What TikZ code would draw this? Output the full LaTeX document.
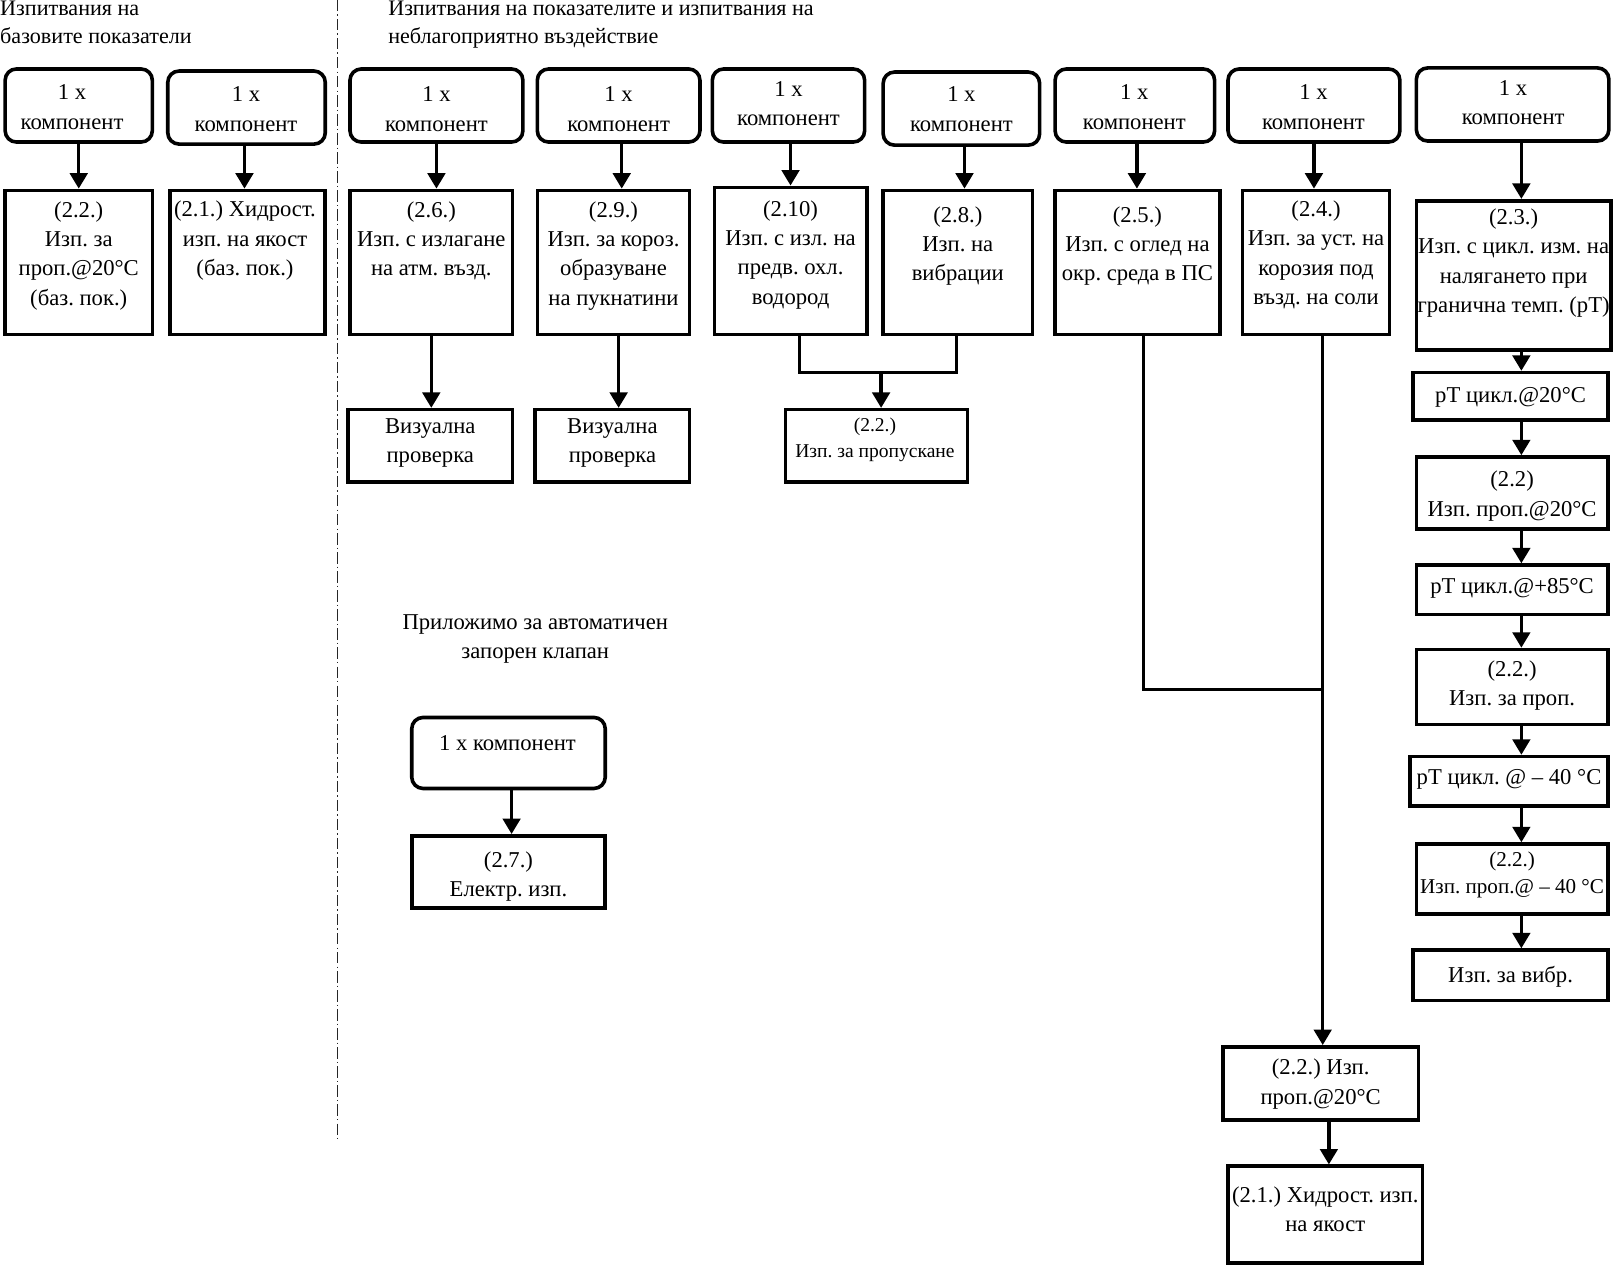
\documentclass[tikz,border=0pt]{standalone}
\usepackage{fontspec}
\setmainfont{Liberation Serif}
\usetikzlibrary{arrows.meta,fit,calc}
\frenchspacing
\begin{document}
\begin{tikzpicture}[x=1pt,y=-1pt,
 rbox/.style={draw, line width=3.5pt, rounded corners=11pt, inner sep=0pt},
 sbox/.style={draw, line width=3.5pt, inner sep=0pt},
 txt/.style={align=center, inner sep=0pt, font=\fontsize{22}{28.5}\selectfont},
 stxt/.style={align=center, inner sep=0pt, font=\fontsize{19}{25.5}\selectfont},
 mtxt/.style={align=center, inner sep=0pt, font=\fontsize{20.5}{26}\selectfont},
 hdr/.style={align=left, inner sep=0pt, anchor=north west, font=\fontsize{21.5}{27}\selectfont},
 arr/.style={line width=3.2pt, -{Triangle[width=17pt,length=15pt]}},
 conn/.style={line width=3.2pt},
 divider/.style={line width=1.5pt, black!85, dash pattern=on 11pt off 3pt on 1.5pt off 3pt}]
\useasboundingbox (0,0) rectangle (1568,1230);
\fill[white] (0,0) rectangle (1568,1230);

% headers
\node[hdr] (h1) at (0,1) {Изпитвания на\\базовите показатели};
\node[hdr] (h2) at (377,1) {Изпитвания на показателите и изпитвания на\\неблагоприятно въздействие};
\coordinate (dtop) at (328,0);
\coordinate (dbot) at (328,1110);
\draw[divider] (dtop) -- (dbot);

% top rounded boxes
\node[rbox, fit={(5,67) (148,138)}] (R1) {};
\node[txt] (tR1) at (70,104) {1 x\\компонент};
\node[rbox, fit={(163,69) (316,140)}] (R2) {};
\node[txt] (tR2) at (239,106) {1 x\\компонент};
\node[rbox, fit={(340,67) (508,138)}] (R3) {};
\node[txt] (tR3) at (424,106) {1 x\\компонент};
\node[rbox, fit={(522,67) (680,138)}] (R4) {};
\node[txt] (tR4) at (601,106) {1 x\\компонент};
\node[rbox, fit={(692,67) (840,138)}] (R5) {};
\node[txt] (tR5) at (766,101) {1 x\\компонент};
\node[rbox, fit={(858,70) (1010,141)}] (R6) {};
\node[txt] (tR6) at (934,106) {1 x\\компонент};
\node[rbox, fit={(1025,67) (1180,138)}] (R7) {};
\node[txt] (tR7) at (1102,104) {1 x\\компонент};
\node[rbox, fit={(1193,67) (1360,138)}] (R8) {};
\node[txt] (tR8) at (1276,104) {1 x\\компонент};
\node[rbox, fit={(1376,66) (1563,137)}] (R9) {};
\node[txt] (tR9) at (1470,100) {1 x\\компонент};

% second row
\node[sbox, fit={(5,185) (148,325)}] (A) {};
\node[txt] (tA) at (76.5,248.5) {(2.2.)\\Изп. за\\проп.@20°C\\(баз. пок.)};
\node[sbox, fit={(165,185) (316,325)}] (B) {};
\node[txt] (tB) at (238,234) {(2.1.) Хидрост.\\изп. на якост\\(баз. пок.)};
\node[sbox, fit={(340,185) (498,325)}] (C) {};
\node[txt] (tC) at (419,234) {(2.6.)\\Изп. с излагане\\на атм. възд.};
\node[sbox, fit={(522,185) (670,325)}] (D) {};
\node[txt] (tD) at (596,248.5) {(2.9.)\\Изп. за короз.\\образуване\\на пукнатини};
\node[sbox, fit={(694,182) (842,325)}] (E) {};
\node[txt] (tE) at (768,247.5) {(2.10)\\Изп. с изл. на\\предв. охл.\\водород};
\node[sbox, fit={(858,185) (1003,325)}] (F) {};
\node[txt] (tF) at (930.5,239) {(2.8.)\\Изп. на\\вибрации};
\node[sbox, fit={(1025,185) (1185,325)}] (G) {};
\node[txt] (tG) at (1105,239) {(2.5.)\\Изп. с оглед на\\окр. среда в ПС};
\node[sbox, fit={(1207,185) (1350,325)}] (H) {};
\node[txt] (tH) at (1278.5,247.5) {(2.4.)\\Изп. за уст. на\\корозия под\\възд. на соли};
\node[sbox, fit={(1376,195) (1565,340)}] (I) {};
\node[txt] (tI) at (1470.5,255.5) {(2.3.)\\Изп. с цикл. изм. на\\налягането при\\гранична темп. (pT)};

% third row
\node[sbox, fit={(338,398) (498,468)}] (V1) {};
\node[txt] (tV1) at (418,430.5) {Визуална\\проверка};
\node[sbox, fit={(520,398) (670,468)}] (V2) {};
\node[txt] (tV2) at (595,430.5) {Визуална\\проверка};
\node[sbox, fit={(763,398) (940,468)}] (P) {};
\node[stxt] (tP) at (850,427.5) {(2.2.)\\Изп. за пропускане};

% bottom middle
\node[sbox, fit={(1188,1017) (1378,1088)}] (Q) {};
\node[txt] (tQ) at (1283,1053) {(2.2.) Изп.\\проп.@20°C};
\node[sbox, fit={(1193,1133) (1382,1227)}] (W) {};
\node[txt] (tW) at (1287.5,1174.5) {(2.1.) Хидрост. изп.\\на якост};

% right column
\node[sbox, fit={(1373,362) (1562,408)}] (S1) {};
\node[txt] (tS1) at (1467.5,386) {pT цикл.@20°C};
\node[sbox, fit={(1376,444) (1562,514)}] (S2) {};
\node[txt] (tS2) at (1469,482) {(2.2)\\Изп. проп.@20°C};
\node[sbox, fit={(1376,549) (1562,597)}] (S3) {};
\node[txt] (tS3) at (1469,572) {pT цикл.@+85°C};
\node[sbox, fit={(1376,631) (1562,704)}] (S4) {};
\node[txt] (tS4) at (1469,666) {(2.2.)\\Изп. за проп.};
\node[sbox, fit={(1370,735) (1562,783)}] (S5) {};
\node[txt] (tS5) at (1466,757) {pT цикл. @ – 40 °C};
\node[sbox, fit={(1376,820) (1562,888)}] (S6) {};
\node[mtxt] (tS6) at (1469,850) {(2.2.)\\Изп. проп.@ – 40 °C};
\node[sbox, fit={(1373,923) (1562,972)}] (S7) {};
\node[txt] (tS7) at (1467.5,949) {Изп. за вибр.};

% bottom left
\node[txt] (note) at (520,621) {Приложимо за автоматичен\\запорен клапан};
\node[rbox, fit={(400,697) (588,766)}] (R10) {};
\node[txt] (tR10) at (493,722) {1 x компонент};
\node[sbox, fit={(400,812) (588,882)}] (T) {};
\node[txt] (tT) at (494,851.5) {(2.7.)\\Електр. изп.};

% connectors top -> second row
\draw[arr] (R1.south) -- (R1.south |- A.north);
\draw[arr] ([xshift=-2pt]R2.south) -- ([xshift=-2pt]R2.south |- B.north);
\draw[arr] (R3.south) -- (R3.south |- C.north);
\draw[arr] ([xshift=3pt]R4.south) -- ([xshift=3pt]R4.south |- D.north);
\draw[arr] ([xshift=2pt]R5.south) -- ([xshift=2pt]R5.south |- E.north);
\draw[arr] ([xshift=3pt]R6.south) -- ([xshift=3pt]R6.south |- F.north);
\draw[arr] ([xshift=2pt]R7.south) -- ([xshift=2pt]R7.south |- G.north);
\draw[arr] (R8.south) -- (R8.south |- H.north);
\coordinate (ax) at (1478,0);
\draw[arr] (R9.south -| ax) -- (I.north -| ax);

% second -> third
\draw[arr] (C.south) -- (C.south |- V1.north);
\draw[arr] ([xshift=5pt]D.south) -- ([xshift=5pt]D.south |- V2.north);
\coordinate (m1) at (856,362);
\draw[conn] ([xshift=9pt]E.south) |- (m1) -| ([xshift=-1.5pt]F.south);
\draw[arr] (m1) -- (m1 |- P.north);

\coordinate (m2) at (1285,670);
\draw[conn] ([xshift=6pt]G.south) |- (m2);
\draw[arr] (H.south -| m2) -- (Q.north -| m2);
\coordinate (bx) at (1291,0);
\draw[arr] (Q.south -| bx) -- (W.north -| bx);

% right column chain
\draw[arr] (I.south -| ax) -- (S1.north -| ax);
\draw[arr] (S1.south -| ax) -- (S2.north -| ax);
\draw[arr] (S2.south -| ax) -- (S3.north -| ax);
\draw[arr] (S3.south -| ax) -- (S4.north -| ax);
\draw[arr] (S4.south -| ax) -- (S5.north -| ax);
\draw[arr] (S5.south -| ax) -- (S6.north -| ax);
\draw[arr] (S6.south -| ax) -- (S7.north -| ax);

% bottom left
\draw[arr] ([xshift=3pt]R10.south) -- ([xshift=3pt]R10.south |- T.north);
\end{tikzpicture}
\end{document}
